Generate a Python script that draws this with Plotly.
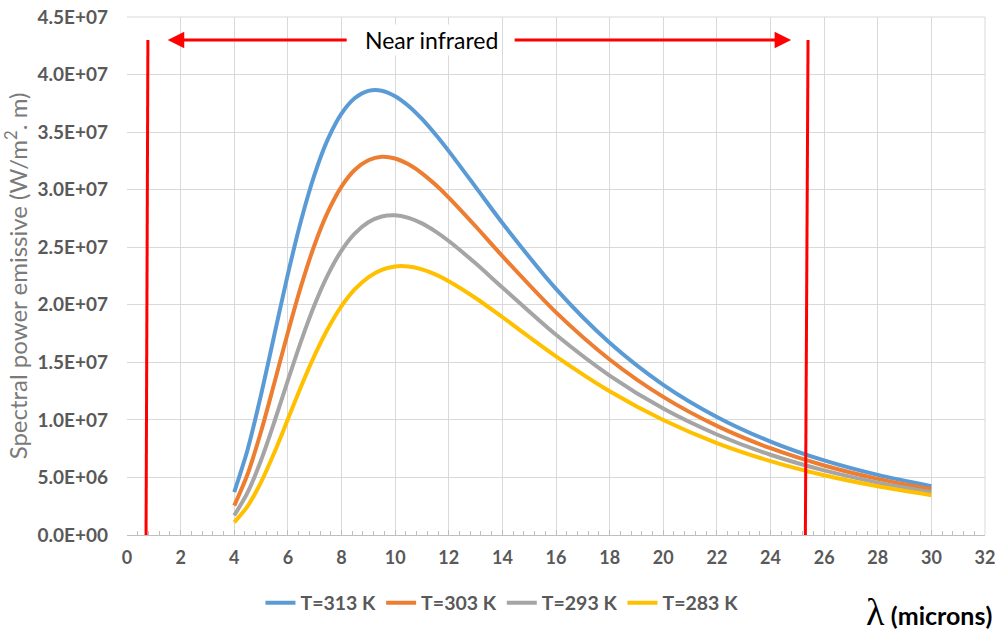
import plotly.graph_objects as go

# Wavelength samples (microns)
wavelength = [4, 4.5, 5, 5.5, 6, 6.5, 7, 7.5, 8, 8.5, 9, 9.5, 10, 10.5, 11,
              11.5, 12, 13, 14, 16, 18, 20, 22, 24, 26, 28, 30]

# Spectral emissive power, in units of 1E+06 W/m^2.m
t313 = [3.73, 7.43, 12.18, 17.44, 22.66, 27.39, 31.35, 34.43, 36.61, 37.96,
        38.58, 38.60, 38.12, 37.27, 36.14, 34.81, 33.35, 30.24, 27.11, 21.38,
        16.70, 13.05, 10.26, 8.12, 6.48, 5.22, 4.24]
t303 = [2.55, 5.30, 8.99, 13.24, 17.60, 21.68, 25.24, 28.11, 30.27, 31.73,
        32.56, 32.86, 32.71, 32.20, 31.42, 30.44, 29.31, 26.82, 24.23, 19.34,
        15.25, 12.00, 9.48, 7.54, 6.04, 4.88, 3.98]
t293 = [1.70, 3.70, 6.50, 9.86, 13.43, 16.89, 20.02, 22.64, 24.71, 26.20,
        27.17, 27.67, 27.78, 27.55, 27.07, 26.38, 25.54, 23.60, 21.50, 17.39,
        13.85, 10.98, 8.73, 6.97, 5.61, 4.55, 3.72]
t283 = [1.10, 2.51, 4.60, 7.19, 10.06, 12.94, 15.62, 17.96, 19.88, 21.35,
        22.39, 23.03, 23.33, 23.32, 23.08, 22.64, 22.05, 20.59, 18.92, 15.52,
        12.49, 9.99, 7.99, 6.42, 5.19, 4.23, 3.46]

series_names = ["T=313 K", "T=303 K", "T=293 K", "T=283 K"]
series_values = [t313, t303, t293, t283]
series_colors = ["#5b9bd5", "#ed7d31", "#a5a5a5", "#ffc000"]

y_ticks = [0, 5e6, 1e7, 1.5e7, 2e7, 2.5e7, 3e7, 3.5e7, 4e7, 4.5e7]
y_tick_text = ["0.0E+00", "5.0E+06", "1.0E+07", "1.5E+07", "2.0E+07",
               "2.5E+07", "3.0E+07", "3.5E+07", "4.0E+07", "4.5E+07"]

# Near-infrared band markers
band_left = [0.71, 0.78]     # bottom, top x of left boundary
band_right = [25.3, 25.4]    # bottom, top x of right boundary
band_top = 4.3e7
arrow_left = [8.25, 1.52]    # tail, tip
arrow_right = [14.4, 24.77]  # tail, tip
band_label_x = 11.34

FONT = "Lato, Open Sans, sans-serif"
GRID = "#d9d9d9"
TEXT_GRAY = "#595959"

fig = go.Figure()
for name, vals, col in zip(series_names, series_values, series_colors):
    fig.add_trace(go.Scatter(
        x=wavelength, y=[v * 1e6 for v in vals], name=name, mode="lines",
        line=dict(color=col, width=4, shape="spline", smoothing=0.8),
    ))

red = "#ff0000"
fig.add_shape(type="line", xref="x", yref="y", x0=band_left[0], y0=0,
              x1=band_left[1], y1=band_top, line=dict(color=red, width=3))
fig.add_shape(type="line", xref="x", yref="y", x0=band_right[0], y0=0,
              x1=band_right[1], y1=band_top, line=dict(color=red, width=3))

for tail, tip in (arrow_left, arrow_right):
    fig.add_annotation(x=tip, y=band_top, ax=tail, ay=band_top,
                       xref="x", yref="y", axref="x", ayref="y",
                       text="", showarrow=True, arrowhead=2, arrowsize=1.1,
                       arrowwidth=3, arrowcolor=red)

fig.add_annotation(x=band_label_x, y=band_top, xref="x", yref="y",
                   text="Near infrared", showarrow=False, bgcolor="white",
                   font=dict(family=FONT, size=23, color="#000000"))

# Axis caption at the lower right corner
fig.add_annotation(
    x=1.0105, y=-0.148, xref="paper", yref="paper", showarrow=False,
    xanchor="right", yanchor="middle",
    text='<span style="font-family:Liberation Serif, serif; font-size:38px">λ</span>'
         ' <b>(microns)</b>',
    font=dict(family=FONT, size=25, color="#000000"),
)

fig.update_layout(
    width=999, height=633,
    margin=dict(l=127, r=14, t=17, b=97),
    paper_bgcolor="white", plot_bgcolor="white",
    font=dict(family=FONT, color=TEXT_GRAY),
    showlegend=True,
    legend=dict(orientation="h", x=0.437, xanchor="center", y=-0.129,
                yanchor="middle", font=dict(family=FONT, size=19.5,
                                             color=TEXT_GRAY, weight="bold"),
                itemwidth=30, tracegroupgap=0),
    xaxis=dict(range=[0, 32], dtick=2, tick0=0, showgrid=True,
               gridcolor=GRID, gridwidth=1, zeroline=False, automargin=False,
               showline=True, linecolor="#bfbfbf", linewidth=1, mirror=False,
               ticks="inside", ticklen=5, tickcolor="#bfbfbf",
               minor=dict(dtick=0.4, ticks="inside", ticklen=4,
                          tickcolor="#bfbfbf", showgrid=False),
               tickfont=dict(family=FONT, size=18, color=TEXT_GRAY,
                             weight="bold"),
               ticklabelstandoff=6),
    yaxis=dict(range=[0, 4.5e7], tickvals=y_ticks, ticktext=y_tick_text,
               showgrid=True, gridcolor=GRID, gridwidth=1, zeroline=False,
               showline=False, ticks="", automargin=False,
               tickfont=dict(family=FONT, size=19, color=TEXT_GRAY,
                             weight="bold"),
               ticklabelstandoff=18,
               title=dict(text="Spectral power emissive (W/m<sup>2</sup>. m)",
                          font=dict(family=FONT, size=24, color="#7a7a7a"),
                          standoff=6)),
)

# Top and right frame edges drawn as gridline-coloured lines
fig.add_shape(type="line", xref="paper", yref="paper", x0=0, x1=1, y0=1, y1=1,
              line=dict(color=GRID, width=1), layer="below")
fig.add_shape(type="line", xref="paper", yref="paper", x0=1, x1=1, y0=0, y1=1,
              line=dict(color=GRID, width=1), layer="below")

fig.write_html("out.html")
